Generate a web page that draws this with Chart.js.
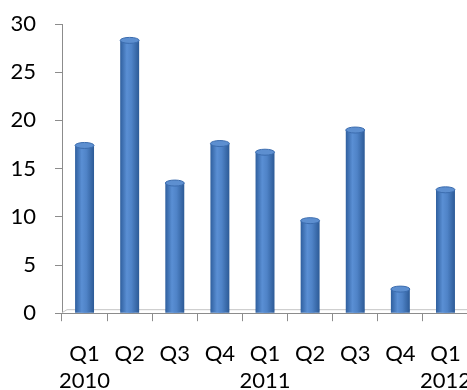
<!DOCTYPE html>
<html>
<head>
<meta charset="utf-8">
<script src="https://cdn.jsdelivr.net/npm/chart.js@4"></script>
<style>
    html, body { margin: 0; padding: 0; background: #ffffff; overflow: hidden; }
</style>
</head>
<body>
<canvas id="quarter-chart" width="491" height="414"></canvas>
<script>
const quarters = [['Q1', '2010'], 'Q2', 'Q3', 'Q4', ['Q1', '2011'], 'Q2', 'Q3', 'Q4', ['Q1', '2012']]
const values = [17.4, 28.3, 13.5, 17.6, 16.7, 9.6, 19.0, 2.5, 12.8]
const yTicks = [0, 5, 10, 15, 20, 25, 30]

const barShare = 0.42
const axisGrey = '#8c8c8c'

function barGradient(context) {
    const chart = context.chart
    const area = chart.chartArea
    if (!area) return '#4f81bd'
    const x = chart.scales.x.getPixelForValue(context.dataIndex)
    const half = area.width / quarters.length * barShare / 2
    const g = chart.ctx.createLinearGradient(x - half, 0, x + half, 0)
    g.addColorStop(0, '#2f5f9e')
    g.addColorStop(0.35, '#5a8fd4')
    g.addColorStop(0.6, '#4f83c7')
    g.addColorStop(1, '#2c5a96')
    return g
}

// 3d look: floor edge behind the bars, round base and cap on each cylinder
const cylinderLook = {
    id: 'cylinderLook',
    beforeDatasetsDraw(chart) {
        const ctx = chart.ctx
        const a = chart.chartArea
        ctx.save()
        ctx.strokeStyle = '#c4c4c4'
        ctx.lineWidth = 1
        ctx.beginPath()
        ctx.moveTo(a.left, a.bottom - 0.5)
        ctx.lineTo(a.left + 5, a.bottom - 3.5)
        ctx.lineTo(a.right, a.bottom - 3.5)
        ctx.stroke()
        ctx.restore()
    },
    afterDatasetsDraw(chart) {
        const ctx = chart.ctx
        chart.getDatasetMeta(0).data.forEach(bar => {
            const {x, y, base, width} = bar.getProps(['x', 'y', 'base', 'width'], true)
            ctx.save()
            ctx.beginPath()
            ctx.ellipse(x, base - 3, width / 2, 3, 0, 0, Math.PI)
            ctx.fillStyle = bar.options.backgroundColor
            ctx.fill()
            ctx.beginPath()
            ctx.ellipse(x, y, width / 2, 3, 0, 0, Math.PI * 2)
            ctx.fillStyle = '#5d8fd0'
            ctx.fill()
            ctx.lineWidth = 1
            ctx.strokeStyle = '#3b6cae'
            ctx.stroke()
            ctx.restore()
        })
    }
}

let quarterChart = new Chart(document.getElementById('quarter-chart'), {
    type: 'bar',
    data: {
        labels: quarters,
        datasets: [
            {
                label: 'Series 1',
                backgroundColor: barGradient,
                borderWidth: 0,
                barPercentage: barShare,
                categoryPercentage: 1,
                data: values
            }
        ]
    },
    options: {
        responsive: false,
        animation: false,
        layout: {
            padding: { top: 24, right: 0, bottom: 0, left: 0 }
        },
        plugins: {
            legend: { display: false },
            tooltip: { enabled: false }
        },
        scales: {
            x: {
                grid: {
                    offset: true,
                    drawOnChartArea: false,
                    drawTicks: true,
                    tickLength: 8,
                    color: axisGrey
                },
                border: { color: axisGrey, width: 1 },
                ticks: {
                    color: '#000000',
                    padding: 20,
                    maxRotation: 0,
                    autoSkip: false,
                    font: { family: 'Lato', size: 22, lineHeight: 1.2 }
                }
            },
            y: {
                min: 0,
                max: 30,
                afterBuildTicks: axis => { axis.ticks = yTicks.map(v => ({ value: v })) },
                afterFit: axis => {
                    axis.width = 62
                    axis.paddingTop = 0
                    axis.paddingBottom = 0
                },
                grid: {
                    drawOnChartArea: false,
                    drawTicks: true,
                    tickLength: 7,
                    color: axisGrey
                },
                border: { color: axisGrey, width: 1 },
                ticks: {
                    color: '#000000',
                    padding: 19,
                    font: { family: 'Lato', size: 22 }
                }
            }
        }
    },
    plugins: [cylinderLook]
})
</script>
</body>
</html>
